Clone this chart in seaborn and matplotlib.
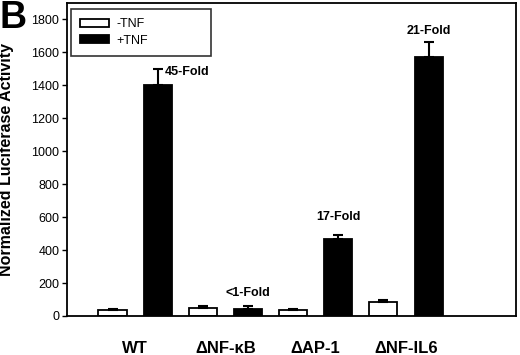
import matplotlib
matplotlib.use("Agg")
import matplotlib.pyplot as plt
import seaborn as sns
import pandas as pd
from matplotlib.patches import Patch

constructs = ["WT", "ΔNF-κB", "ΔAP-1", "ΔNF-IL6"]
treatments = ["-TNF", "+TNF"]
minus_tnf = [35, 50, 35, 82]
plus_tnf = [1400, 42, 465, 1570]
minus_err = [6, 8, 8, 16]
plus_err = [100, 16, 28, 90]
fold_labels = ["45-Fold", "<1-Fold", "17-Fold", "21-Fold"]
fold_y = [1480, 137, 598, 1727]
yticks = [0, 200, 400, 600, 800, 1000, 1200, 1400, 1600, 1800]

df = pd.DataFrame({
    "construct": constructs * 2,
    "treatment": [treatments[0]] * 4 + [treatments[1]] * 4,
    "value": minus_tnf + plus_tnf,
})

sns.set_theme(style="ticks")
plt.rcParams["font.family"] = ["Liberation Sans", "DejaVu Sans"]
plt.rcParams["text.color"] = "black"
plt.rcParams["axes.labelcolor"] = "black"
plt.rcParams["xtick.color"] = "black"
plt.rcParams["ytick.color"] = "black"

fig = plt.figure(figsize=(5.2, 3.55), dpi=100)
ax = fig.add_axes([67 / 520, (355 - 316) / 355, 449 / 520, 313 / 355])

sns.barplot(data=df, x="construct", y="value", hue="treatment",
            order=constructs, hue_order=treatments,
            palette=["white", "black"], width=1.0, gap=0.378,
            errorbar=None, edgecolor="black", linewidth=1.3,
            legend=False, ax=ax)

bar_conts = list(ax.containers)
errs = [minus_err, plus_err]
for ci, cont in enumerate(bar_conts):
    xs = [p.get_x() + p.get_width() / 2 for p in cont.patches]
    hs = [p.get_height() for p in cont.patches]
    ax.errorbar(xs, hs, yerr=[[0] * len(hs), errs[ci]], fmt="none",
                ecolor="black", elinewidth=1.5, capsize=3.8, capthick=1.5,
                zorder=1)

plus_cont = bar_conts[1]
for i, (lab, yv) in enumerate(zip(fold_labels, fold_y)):
    p = plus_cont.patches[i]
    xc = p.get_x() + p.get_width() / 2
    if i == 0:
        ax.annotate(lab, (xc, yv), xytext=(5, 0), textcoords="offset points",
                    ha="left", va="center", fontsize=9, fontweight="bold",
                    color="black")
    else:
        ax.text(xc, yv, lab, ha="center", va="center", fontsize=9,
                fontweight="bold", color="black")

ax.set_xlim(-0.754, 4.218)
ax.set_ylim(0, 1897)
ax.set_yticks(yticks)
ax.tick_params(axis="y", labelsize=9, length=3.5, width=1, direction="out",
               color="black", labelcolor="black", pad=2)
ax.tick_params(axis="x", length=0, pad=18, labelsize=12, labelcolor="black")
for t in ax.get_xticklabels():
    t.set_fontweight("bold")
for s in ax.spines.values():
    s.set_visible(True)
    s.set_color("black")
    s.set_linewidth(1.3)

ax.set_xlabel("")
ax.set_ylabel("Normalized Luciferase Activity", fontsize=11.5,
              fontweight="bold", color="black")
ax.yaxis.set_label_coords(-0.118, 0.5)

handles = [Patch(facecolor="white", edgecolor="black", linewidth=1.3),
           Patch(facecolor="black", edgecolor="black", linewidth=1.3)]
leg = ax.legend(handles, treatments, loc="upper left",
                bbox_to_anchor=(0.009, 0.821, 0.312, 0.16), mode="expand",
                borderaxespad=0, fontsize=9, handlelength=2.3,
                handleheight=0.65, handletextpad=0.6, labelspacing=0.35,
                borderpad=0.75, frameon=True, fancybox=False)
leg.get_frame().set_edgecolor("black")
leg.get_frame().set_linewidth(1.2)
for t in leg.get_texts():
    t.set_color("black")

fig.text(0.0, 1.0, "B", fontsize=27, fontweight="bold", ha="left", va="top",
         color="black")

fig.savefig("out.png", dpi=100)
